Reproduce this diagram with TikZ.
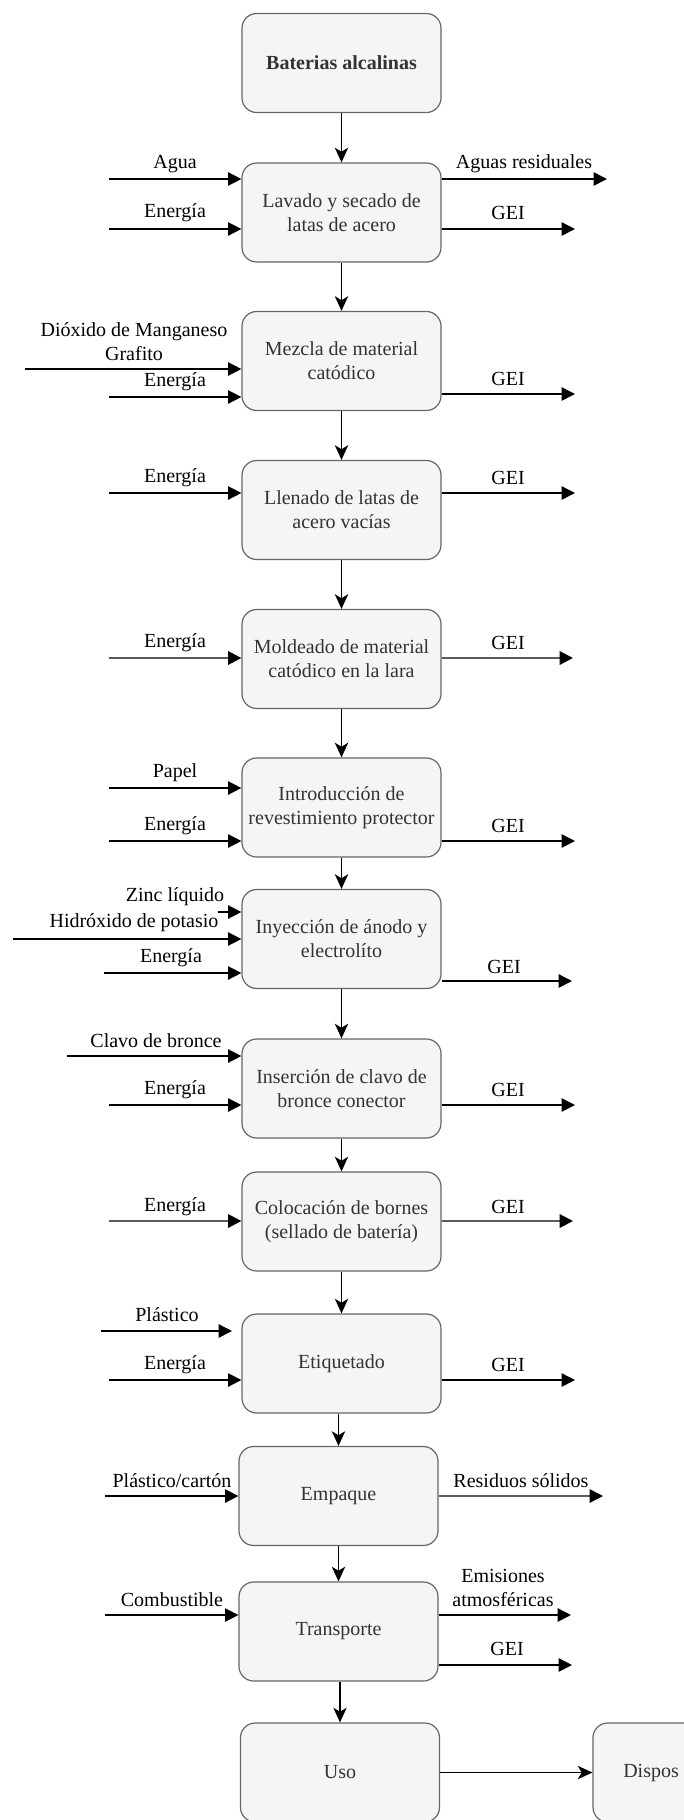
\documentclass[tikz,border=0pt]{standalone}
\usepackage{fontspec}
\setmainfont{Liberation Serif}
\usetikzlibrary{arrows.meta}
\definecolor{boxfill}{HTML}{F5F5F5}
\definecolor{boxline}{HTML}{666666}
\definecolor{boxtxt}{HTML}{333333}
\definecolor{heavy}{HTML}{5A5A5A}
\tikzset{
  stage/.style={draw=boxline, fill=boxfill, line width=0.9pt, rounded corners=11pt,
    minimum width=149.25pt, minimum height=74.25pt, inner sep=0pt, align=center,
    text=boxtxt, font=\fontsize{15pt}{18pt}\selectfont},
  stagetext/.style={inner sep=0pt, text=boxtxt, font=\fontsize{15pt}{18pt}\selectfont},
  flowlabel/.style={inner sep=0pt, align=center, text=black, font=\fontsize{15pt}{18pt}\selectfont},
  sideflow/.style={line width=1.1pt, -{Triangle[length=10pt, width=10pt]}},
  heavyflow/.style={line width=1.7pt, draw=heavy, -{Triangle[length=10pt, width=10pt, color=black]}},
  mainflow/.style={line width=1.1pt, -{Stealth[length=11pt, width=10pt, inset=3pt]}},
}
\begin{document}
\begin{tikzpicture}[x=0.75pt, y=-0.75pt]
\useasboundingbox (0,0) rectangle (684,1820);
\clip (0,0) rectangle (684,1820);

% process stages
\node[stage, font=\fontsize{15pt}{18pt}\selectfont\bfseries] (bat) at (341.5,63) {Baterias alcalinas};
\node[stage] (lav) at (341.5,212.5) {Lavado y secado de\\latas de acero};
\node[stage] (mez) at (341.5,361) {Mezcla de material\\catódico};
\node[stage] (lle) at (341.5,510) {Llenado de latas de\\acero vacías};
\node[stage] (mol) at (341.5,659) {Moldeado de material\\catódico en la lara};
\node[stage] (int) at (341.5,807.5) {Introducción de\\revestimiento protector};
\node[stage] (iny) at (341.5,939) {Inyección de ánodo y\\electrolíto};
\node[stage] (ins) at (341.5,1088.5) {Inserción de clavo de\\bronce conector};
\node[stage] (col) at (341.5,1221.5) {Colocación de bornes\\(sellado de batería)};
\node[stage] (eti) at (341.5,1363.5) {Etiquetado};
\node[stage] (emp) at (338.5,1496) {Empaque};
\node[stage] (tra) at (338.5,1631.5) {Transporte};
\node[stage] (uso) at (340,1772.5) {Uso};
\node[stage] (dis) at (692.5,1772.5) {};
\node[stagetext, anchor=west] (distxt) at (623,1772.5) {Dispos};

% main sequence
\draw[mainflow] (bat) -- (lav);
\draw[mainflow] (lav) -- (mez);
\draw[mainflow] (mez) -- (lle);
\draw[mainflow] (lle) -- (mol);
\draw[mainflow] (mol) -- (int);
\draw[mainflow] (int) -- (iny);
\draw[mainflow] (iny) -- (ins);
\draw[mainflow] (ins) -- (col);
\draw[mainflow] (col) -- (eti);
\draw[mainflow] (eti.south -| emp.north) -- (emp.north);
\draw[mainflow] (emp) -- (tra);
\draw[mainflow] (tra.south -| uso.north) -- (uso.north);
\draw[mainflow] (uso) -- (dis);

% Lavado
\coordinate (lavA) at (109,179);
\coordinate (lavE) at (109,229);
\coordinate (lavW) at (607,179);
\coordinate (lavG) at (575,229);
\draw[sideflow] (lavA) -- (lavA -| lav.west);
\draw[sideflow] (lavE) -- (lavE -| lav.west);
\draw[sideflow] (lavW -| lav.east) -- (lavW);
\draw[sideflow] (lavG -| lav.east) -- (lavG);
\node[flowlabel] (lavAl) at (175,164) {Agua};
\node[flowlabel] (lavEl) at (175,213) {Energía};
\node[flowlabel] (lavWl) at (524,164) {Aguas residuales};
\node[flowlabel] (lavGl) at (508,213) {GEI};

% Mezcla
\coordinate (mezM) at (25,369);
\coordinate (mezE) at (109,397);
\coordinate (mezG) at (575,394);
\draw[sideflow] (mezM) -- (mezM -| mez.west);
\draw[sideflow] (mezE) -- (mezE -| mez.west);
\draw[sideflow] (mezG -| mez.east) -- (mezG);
\node[flowlabel] (mezMl) at (134,341.5) {Dióxido de Manganeso\\Grafito};
\node[flowlabel] (mezEl) at (175,382) {Energía};
\node[flowlabel] (mezGl) at (508,379) {GEI};

% Llenado
\coordinate (lleE) at (109,493);
\coordinate (lleG) at (575,493);
\draw[sideflow] (lleE) -- (lleE -| lle.west);
\draw[sideflow] (lleG -| lle.east) -- (lleG);
\node[flowlabel] (lleEl) at (175,478) {Energía};
\node[flowlabel] (lleGl) at (508,478) {GEI};

% Moldeado
\coordinate (molE) at (109,658);
\coordinate (molG) at (573,658);
\draw[heavyflow] (molE) -- (molE -| mol.west);
\draw[heavyflow] (molG -| mol.east) -- (molG);
\node[flowlabel] (molEl) at (175,643) {Energía};
\node[flowlabel] (molGl) at (508,643) {GEI};

% Introduccion
\coordinate (intP) at (109,788);
\coordinate (intE) at (109,841);
\coordinate (intG) at (575,841);
\draw[sideflow] (intP) -- (intP -| int.west);
\draw[sideflow] (intE) -- (intE -| int.west);
\draw[sideflow] (intG -| int.east) -- (intG);
\node[flowlabel] (intPl) at (175,773) {Papel};
\node[flowlabel] (intEl) at (175,826) {Energía};
\node[flowlabel] (intGl) at (508,826) {GEI};

% Inyeccion
\coordinate (inyZ) at (218,912);
\coordinate (inyH) at (13,939);
\coordinate (inyE) at (104,973);
\coordinate (inyG) at (572,981);
\draw[sideflow] (inyZ) -- (inyZ -| iny.west);
\draw[sideflow] (inyH) -- (inyH -| iny.west);
\draw[sideflow] (inyE) -- (inyE -| iny.west);
\draw[sideflow] (inyG -| iny.east) -- (inyG);
\node[flowlabel] (inyZl) at (175,897) {Zinc líquido};
\node[flowlabel] (inyHl) at (134,923) {Hidróxido de potasio};
\node[flowlabel] (inyEl) at (171,958) {Energía};
\node[flowlabel] (inyGl) at (504,967) {GEI};

% Insercion
\coordinate (insC) at (67,1056);
\coordinate (insE) at (109,1105);
\coordinate (insG) at (575,1105);
\draw[sideflow] (insC) -- (insC -| ins.west);
\draw[sideflow] (insE) -- (insE -| ins.west);
\draw[sideflow] (insG -| ins.east) -- (insG);
\node[flowlabel] (insCl) at (156,1041) {Clavo de bronce};
\node[flowlabel] (insEl) at (175,1090) {Energía};
\node[flowlabel] (insGl) at (508,1090) {GEI};

% Colocacion
\coordinate (colE) at (109,1221);
\coordinate (colG) at (573,1221);
\draw[heavyflow] (colE) -- (colE -| col.west);
\draw[heavyflow] (colG -| col.east) -- (colG);
\node[flowlabel] (colEl) at (175,1207) {Energía};
\node[flowlabel] (colGl) at (508,1207) {GEI};

% Etiquetado
\coordinate (etiPs) at (101,1331);
\coordinate (etiPe) at (232,1331);
\coordinate (etiE) at (109,1380);
\coordinate (etiG) at (575,1380);
\draw[sideflow] (etiPs) -- (etiPe);
\draw[sideflow] (etiE) -- (etiE -| eti.west);
\draw[sideflow] (etiG -| eti.east) -- (etiG);
\node[flowlabel] (etiPl) at (167,1315) {Plástico};
\node[flowlabel] (etiEl) at (175,1365) {Energía};
\node[flowlabel] (etiGl) at (508,1365) {GEI};

% Empaque
\coordinate (empP) at (105,1496);
\coordinate (empR) at (603,1496);
\draw[sideflow] (empP) -- (empP -| emp.west);
\draw[heavyflow, line width=1.4pt] (empR -| emp.east) -- (empR);
\node[flowlabel] (empPl) at (172,1481) {Plástico/cartón};
\node[flowlabel] (empRl) at (521,1481) {Residuos sólidos};

% Transporte
\coordinate (traC) at (105,1615);
\coordinate (traA) at (571,1615);
\coordinate (traG) at (572,1665);
\draw[sideflow] (traC) -- (traC -| tra.west);
\draw[sideflow] (traA -| tra.east) -- (traA);
\draw[sideflow] (traG -| tra.east) -- (traG);
\node[flowlabel] (traCl) at (172,1600) {Combustible};
\node[flowlabel] (traAl) at (503,1587.5) {Emisiones\\atmosféricas};
\node[flowlabel] (traGl) at (507,1649) {GEI};
\end{tikzpicture}
\end{document}
